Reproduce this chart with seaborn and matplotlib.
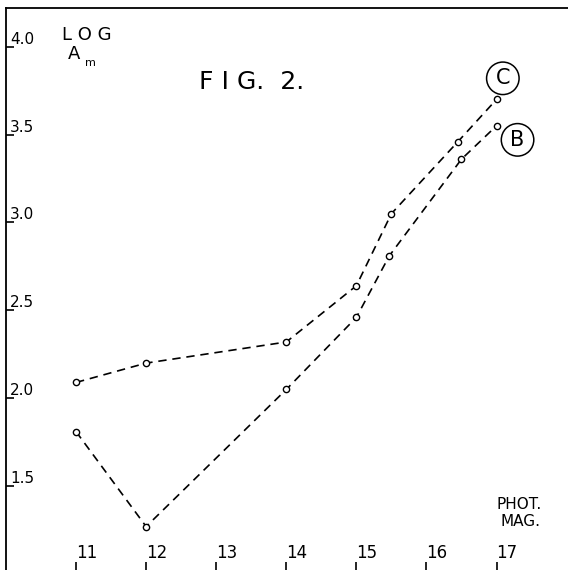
import matplotlib
matplotlib.use('Agg')
import matplotlib.pyplot as plt
import seaborn as sns
import pandas as pd

# значения
mag_c = [11.0, 12.0, 14.0, 15.0, 15.5, 16.45, 17.0]
log_c = [2.09, 2.20, 2.32, 2.64, 3.05, 3.46, 3.70]
mag_b = [11.0, 12.0, 14.0, 15.0, 15.47, 16.5, 17.0]
log_b = [1.81, 1.27, 2.05, 2.46, 2.81, 3.36, 3.55]

x_ticks = [11, 12, 13, 14, 15, 16, 17]
y_ticks = [1.5, 2.0, 2.5, 3.0, 3.5, 4.0]
y_labels = ['1.5', '2.0', '2.5', '3.0', '3.5', '4.0']

sns.set_style('white')
plt.rcParams['font.family'] = ['DejaVu Sans']
plt.rcParams['text.color'] = 'black'
plt.rcParams['xtick.color'] = 'black'
plt.rcParams['ytick.color'] = 'black'

df = pd.concat([
    pd.DataFrame({'mag': mag_c, 'log_a': log_c, 'curve': 'C'}),
    pd.DataFrame({'mag': mag_b, 'log_a': log_b, 'curve': 'B'}),
])

fig = plt.figure(figsize=(5.68, 5.70), dpi=100)
ax = fig.add_axes([6 / 568, 0.0, 1 - 6 / 568, 1 - 8 / 570])

for name in ['C', 'B']:
    sub = df[df['curve'] == name]
    sns.lineplot(data=sub, x='mag', y='log_a', ax=ax, color='black',
                 linestyle=(0, (5, 3.5)), linewidth=1.2, marker='o',
                 markersize=4.5, markerfacecolor='white',
                 markeredgecolor='black', markeredgewidth=1.0,
                 sort=False, legend=False)

ax.set_xlim(10.0, 18.02)
ax.set_ylim(1.023, 4.22)

ax.spines['right'].set_visible(False)
ax.spines['bottom'].set_visible(False)
ax.spines['left'].set_linewidth(1.3)
ax.spines['top'].set_linewidth(1.3)
for s in ['left', 'top']:
    ax.spines[s].set_color('black')

ax.set_xticks(x_ticks)
ax.set_xticklabels([str(t) for t in x_ticks])
ax.set_yticks(y_ticks)
ax.set_yticklabels(y_labels)
ax.tick_params(axis='x', bottom=True, direction='in', length=6, width=1.2,
               color='black', labelcolor='black', pad=-19, labelsize=12)
ax.tick_params(axis='y', left=True, direction='in', length=6, width=1.2,
               color='black', labelcolor='black', pad=-3, labelsize=11)
for lab in ax.get_xticklabels():
    lab.set_ha('left')
for lab in ax.get_yticklabels():
    lab.set_ha('left')
    lab.set_va('bottom')

ax.set_xlabel('')
ax.set_ylabel('')

# подписи осей и заголовок
ax.text(62 / 568, 1 - 44 / 570, 'L O G', transform=fig.transFigure,
        fontsize=13, ha='left', va='bottom')
ax.text(68 / 568, 1 - 63 / 570, 'A', transform=fig.transFigure,
        fontsize=13, ha='left', va='bottom')
ax.text(85 / 568, 1 - 68 / 570, 'm', transform=fig.transFigure,
        fontsize=8, ha='left', va='bottom')
ax.text(199 / 568, 1 - 94 / 570, 'F I G.  2.', transform=fig.transFigure,
        fontsize=18, ha='left', va='bottom')
ax.text(497 / 568, 1 - 512 / 570, 'PHOT.', transform=fig.transFigure,
        fontsize=11, ha='left', va='bottom')
ax.text(500 / 568, 1 - 529 / 570, 'MAG.', transform=fig.transFigure,
        fontsize=11, ha='left', va='bottom')

ax.text(17.09, 3.82, 'C', fontsize=15, ha='center', va='center',
        bbox=dict(boxstyle='circle,pad=0.3', fc='none', ec='black', lw=1.1))
ax.text(17.30, 3.47, 'B', fontsize=15, ha='center', va='center',
        bbox=dict(boxstyle='circle,pad=0.3', fc='none', ec='black', lw=1.1))

fig.savefig('out.png', dpi=100, facecolor='white')
